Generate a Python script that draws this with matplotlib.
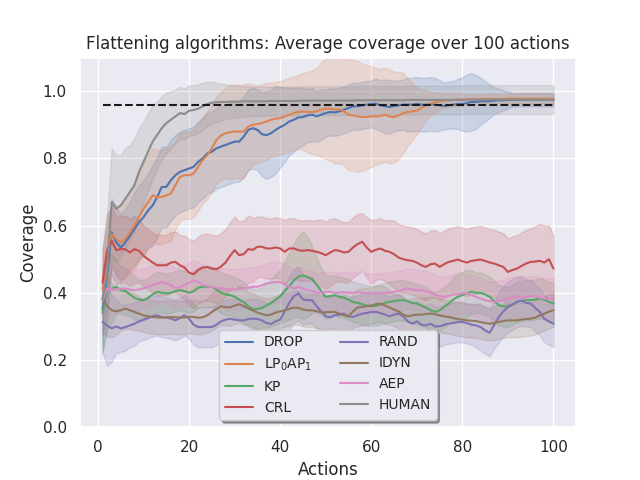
import matplotlib
matplotlib.use("Agg")
import matplotlib.pyplot as plt
import numpy as np
import seaborn as sns

sns.set()
plt.rcParams["font.family"] = ["DejaVu Sans"]

actions = np.arange(1, 101)
target = 0.96

labels = ["DROP", "LP$_0$AP$_1$", "KP", "CRL", "RAND", "IDYN", "AEP", "HUMAN"]

drop_mean = [
    0.35, 0.45, 0.58, 0.55, 0.535, 0.55, 0.57, 0.59, 0.61, 0.625,
    0.645, 0.66, 0.685, 0.715, 0.715, 0.735, 0.75, 0.76, 0.765, 0.77,
    0.775, 0.79, 0.80, 0.815, 0.82, 0.83, 0.835, 0.84, 0.845, 0.85,
    0.85, 0.865, 0.885, 0.89, 0.885, 0.872, 0.869, 0.875, 0.885, 0.893,
    0.90, 0.91, 0.915, 0.922, 0.923, 0.928, 0.93, 0.925, 0.93, 0.935,
    0.938, 0.937, 0.94, 0.945, 0.95, 0.955, 0.955, 0.958, 0.96, 0.962,
    0.963, 0.958, 0.955, 0.953, 0.956, 0.958, 0.96, 0.96, 0.96, 0.962,
    0.96, 0.96, 0.962, 0.96, 0.958, 0.956, 0.958, 0.96, 0.962, 0.962,
    0.965, 0.968, 0.968, 0.97, 0.97, 0.97, 0.972, 0.973, 0.973, 0.974,
    0.974, 0.974, 0.975, 0.975, 0.975, 0.975, 0.975, 0.975, 0.975, 0.975,
]
drop_std = [
    0.08, 0.10, 0.10, 0.10, 0.10, 0.10, 0.10, 0.11, 0.11, 0.11,
    0.11, 0.12, 0.12, 0.12, 0.12, 0.12, 0.12, 0.12, 0.12, 0.12,
    0.12, 0.12, 0.12, 0.12, 0.12, 0.12, 0.12, 0.12, 0.12, 0.12,
    0.12, 0.12, 0.12, 0.12, 0.12, 0.125, 0.13, 0.13, 0.13, 0.12,
    0.11, 0.10, 0.095, 0.09, 0.085, 0.08, 0.08, 0.075, 0.075, 0.07,
    0.07, 0.07, 0.07, 0.07, 0.07, 0.07, 0.07, 0.07, 0.07, 0.07,
    0.075, 0.075, 0.08, 0.08, 0.075, 0.075, 0.075, 0.08, 0.08, 0.08,
    0.08, 0.08, 0.08, 0.08, 0.075, 0.07, 0.07, 0.07, 0.075, 0.08,
    0.085, 0.085, 0.08, 0.07, 0.06, 0.05, 0.04, 0.035, 0.03, 0.025,
    0.02, 0.02, 0.02, 0.02, 0.02, 0.02, 0.02, 0.02, 0.02, 0.02,
]

lp_mean = [
    0.41, 0.50, 0.575, 0.56, 0.55, 0.56, 0.58, 0.60, 0.625, 0.65,
    0.67, 0.69, 0.685, 0.685, 0.69, 0.695, 0.72, 0.745, 0.75, 0.75,
    0.755, 0.775, 0.795, 0.81, 0.83, 0.855, 0.868, 0.875, 0.878, 0.88,
    0.88, 0.88, 0.895, 0.90, 0.902, 0.905, 0.91, 0.915, 0.918, 0.92,
    0.925, 0.93, 0.935, 0.938, 0.94, 0.938, 0.938, 0.94, 0.945, 0.948,
    0.948, 0.945, 0.946, 0.94, 0.93, 0.928, 0.925, 0.923, 0.923, 0.925,
    0.925, 0.926, 0.93, 0.925, 0.923, 0.928, 0.935, 0.938, 0.94, 0.942,
    0.95, 0.958, 0.963, 0.967, 0.97, 0.972, 0.973, 0.974, 0.975, 0.975,
    0.976, 0.976, 0.976, 0.976, 0.977, 0.977, 0.977, 0.977, 0.977, 0.978,
    0.978, 0.978, 0.978, 0.978, 0.978, 0.978, 0.978, 0.978, 0.978, 0.978,
]
lp_std = [
    0.08, 0.10, 0.10, 0.10, 0.11, 0.12, 0.12, 0.13, 0.13, 0.14,
    0.14, 0.14, 0.14, 0.14, 0.14, 0.14, 0.13, 0.13, 0.13, 0.13,
    0.13, 0.13, 0.13, 0.13, 0.13, 0.13, 0.13, 0.135, 0.14, 0.14,
    0.14, 0.14, 0.13, 0.12, 0.115, 0.115, 0.115, 0.11, 0.11, 0.11,
    0.11, 0.11, 0.11, 0.11, 0.115, 0.12, 0.125, 0.13, 0.14, 0.15,
    0.155, 0.16, 0.16, 0.16, 0.165, 0.165, 0.165, 0.16, 0.155, 0.15,
    0.145, 0.14, 0.14, 0.14, 0.135, 0.13, 0.12, 0.10, 0.085, 0.07,
    0.055, 0.045, 0.035, 0.03, 0.025, 0.022, 0.02, 0.02, 0.018, 0.018,
    0.015, 0.015, 0.015, 0.015, 0.015, 0.015, 0.015, 0.015, 0.015, 0.015,
    0.015, 0.015, 0.015, 0.015, 0.015, 0.015, 0.015, 0.015, 0.015, 0.015,
]

kp_mean = [
    0.34, 0.41, 0.412, 0.418, 0.408, 0.405, 0.395, 0.385, 0.38, 0.378,
    0.385, 0.395, 0.403, 0.40, 0.398, 0.40, 0.405, 0.408, 0.405, 0.40,
    0.405, 0.415, 0.418, 0.418, 0.418, 0.41, 0.40, 0.395, 0.393, 0.388,
    0.38, 0.372, 0.36, 0.351, 0.352, 0.355, 0.362, 0.37, 0.38, 0.39,
    0.405, 0.42, 0.437, 0.448, 0.452, 0.447, 0.44, 0.425, 0.405, 0.388,
    0.39, 0.393, 0.388, 0.386, 0.38, 0.373, 0.37, 0.366, 0.362, 0.36,
    0.362, 0.365, 0.37, 0.373, 0.375, 0.378, 0.378, 0.375, 0.37, 0.368,
    0.362, 0.356, 0.348, 0.343, 0.348, 0.358, 0.368, 0.38, 0.388, 0.393,
    0.398, 0.403, 0.40, 0.40, 0.395, 0.388, 0.375, 0.363, 0.36, 0.358,
    0.365, 0.373, 0.376, 0.378, 0.378, 0.38, 0.383, 0.38, 0.373, 0.368,
]
kp_std = [
    0.12, 0.12, 0.10, 0.08, 0.07, 0.07, 0.065, 0.065, 0.06, 0.06,
    0.06, 0.06, 0.06, 0.06, 0.06, 0.06, 0.06, 0.06, 0.06, 0.06,
    0.06, 0.06, 0.06, 0.06, 0.06, 0.06, 0.06, 0.06, 0.06, 0.06,
    0.06, 0.06, 0.06, 0.06, 0.06, 0.06, 0.065, 0.07, 0.075, 0.08,
    0.09, 0.10, 0.11, 0.12, 0.13, 0.12, 0.10, 0.08, 0.07, 0.065,
    0.06, 0.06, 0.06, 0.06, 0.06, 0.06, 0.06, 0.06, 0.06, 0.06,
    0.06, 0.06, 0.06, 0.06, 0.06, 0.06, 0.06, 0.06, 0.06, 0.06,
    0.06, 0.06, 0.06, 0.06, 0.06, 0.06, 0.06, 0.065, 0.07, 0.07,
    0.07, 0.065, 0.06, 0.06, 0.06, 0.06, 0.06, 0.06, 0.06, 0.06,
    0.06, 0.06, 0.06, 0.06, 0.06, 0.06, 0.06, 0.06, 0.06, 0.06,
]

crl_mean = [
    0.43, 0.527, 0.555, 0.527, 0.53, 0.53, 0.52, 0.53, 0.525, 0.51,
    0.50, 0.49, 0.482, 0.482, 0.482, 0.49, 0.492, 0.482, 0.475, 0.46,
    0.455, 0.468, 0.475, 0.477, 0.472, 0.47, 0.478, 0.49, 0.51, 0.527,
    0.512, 0.515, 0.53, 0.528, 0.537, 0.537, 0.532, 0.532, 0.535, 0.532,
    0.522, 0.532, 0.532, 0.527, 0.525, 0.527, 0.525, 0.522, 0.518, 0.512,
    0.52, 0.527, 0.525, 0.52, 0.522, 0.535, 0.545, 0.552, 0.535, 0.522,
    0.528, 0.532, 0.525, 0.522, 0.515, 0.505, 0.50, 0.497, 0.495, 0.49,
    0.482, 0.477, 0.485, 0.487, 0.477, 0.485, 0.492, 0.495, 0.499, 0.494,
    0.49, 0.495, 0.497, 0.499, 0.495, 0.49, 0.487, 0.482, 0.477, 0.462,
    0.468, 0.472, 0.48, 0.487, 0.492, 0.493, 0.495, 0.49, 0.50, 0.472,
]
crl_std = [
    0.10, 0.11, 0.10, 0.10, 0.10, 0.10, 0.10, 0.10, 0.095, 0.09,
    0.09, 0.09, 0.09, 0.09, 0.09, 0.09, 0.09, 0.09, 0.095, 0.10,
    0.10, 0.10, 0.10, 0.10, 0.10, 0.10, 0.10, 0.10, 0.10, 0.10,
    0.10, 0.10, 0.10, 0.095, 0.09, 0.09, 0.09, 0.09, 0.09, 0.09,
    0.095, 0.09, 0.09, 0.09, 0.09, 0.09, 0.09, 0.095, 0.10, 0.10,
    0.10, 0.095, 0.09, 0.09, 0.09, 0.09, 0.09, 0.085, 0.09, 0.095,
    0.09, 0.09, 0.09, 0.095, 0.10, 0.10, 0.10, 0.10, 0.10, 0.10,
    0.10, 0.10, 0.10, 0.10, 0.10, 0.10, 0.10, 0.10, 0.10, 0.10,
    0.10, 0.10, 0.10, 0.10, 0.10, 0.10, 0.10, 0.10, 0.10, 0.10,
    0.10, 0.10, 0.10, 0.10, 0.10, 0.105, 0.11, 0.11, 0.10, 0.10,
]

rand_mean = [
    0.313, 0.303, 0.294, 0.30, 0.294, 0.298, 0.303, 0.308, 0.315, 0.32,
    0.325, 0.33, 0.333, 0.328, 0.326, 0.323, 0.318, 0.325, 0.333, 0.323,
    0.305, 0.298, 0.298, 0.298, 0.298, 0.305, 0.315, 0.32, 0.323, 0.32,
    0.318, 0.318, 0.322, 0.323, 0.322, 0.318, 0.31, 0.307, 0.315, 0.32,
    0.345, 0.37, 0.39, 0.398, 0.38, 0.378, 0.378, 0.36, 0.345, 0.33,
    0.327, 0.333, 0.335, 0.338, 0.33, 0.328, 0.333, 0.338, 0.34, 0.343,
    0.343, 0.34, 0.335, 0.33, 0.335, 0.338, 0.33, 0.315, 0.308, 0.315,
    0.305, 0.303, 0.308, 0.30, 0.30, 0.305, 0.308, 0.31, 0.313, 0.313,
    0.31, 0.305, 0.303, 0.298, 0.288, 0.281, 0.305, 0.328, 0.345, 0.358,
    0.365, 0.373, 0.376, 0.37, 0.368, 0.355, 0.343, 0.323, 0.315, 0.308,
]
rand_std = [
    0.09, 0.12, 0.10, 0.08, 0.07, 0.07, 0.065, 0.065, 0.06, 0.06,
    0.06, 0.06, 0.06, 0.06, 0.06, 0.06, 0.06, 0.06, 0.06, 0.06,
    0.06, 0.06, 0.06, 0.06, 0.06, 0.06, 0.06, 0.06, 0.06, 0.06,
    0.06, 0.06, 0.06, 0.06, 0.06, 0.06, 0.06, 0.06, 0.065, 0.07,
    0.075, 0.08, 0.08, 0.08, 0.075, 0.07, 0.07, 0.065, 0.06, 0.06,
    0.06, 0.06, 0.06, 0.06, 0.06, 0.06, 0.06, 0.06, 0.06, 0.06,
    0.06, 0.06, 0.06, 0.06, 0.06, 0.06, 0.06, 0.06, 0.06, 0.06,
    0.06, 0.06, 0.06, 0.06, 0.06, 0.06, 0.06, 0.06, 0.06, 0.06,
    0.06, 0.06, 0.065, 0.07, 0.07, 0.07, 0.07, 0.075, 0.075, 0.075,
    0.075, 0.075, 0.075, 0.07, 0.07, 0.07, 0.07, 0.07, 0.07, 0.07,
]

idyn_mean = [
    0.383, 0.36, 0.348, 0.345, 0.348, 0.353, 0.348, 0.343, 0.338, 0.333,
    0.33, 0.328, 0.327, 0.326, 0.327, 0.328, 0.327, 0.326, 0.327, 0.329,
    0.328, 0.326, 0.327, 0.333, 0.343, 0.352, 0.36, 0.357, 0.357, 0.362,
    0.366, 0.36, 0.353, 0.348, 0.341, 0.337, 0.333, 0.335, 0.341, 0.345,
    0.348, 0.352, 0.356, 0.355, 0.35, 0.348, 0.348, 0.345, 0.342, 0.342,
    0.343, 0.343, 0.338, 0.333, 0.33, 0.345, 0.356, 0.358, 0.36, 0.362,
    0.366, 0.368, 0.362, 0.356, 0.35, 0.345, 0.335, 0.33, 0.333, 0.335,
    0.335, 0.337, 0.338, 0.336, 0.333, 0.33, 0.328, 0.325, 0.322, 0.32,
    0.318, 0.317, 0.316, 0.313, 0.31, 0.308, 0.31, 0.313, 0.316, 0.318,
    0.318, 0.318, 0.32, 0.322, 0.323, 0.326, 0.333, 0.338, 0.344, 0.348,
]
idyn_std = [
    0.10, 0.09, 0.08, 0.07, 0.06, 0.06, 0.055, 0.055, 0.05, 0.05,
    0.05, 0.05, 0.05, 0.05, 0.05, 0.05, 0.05, 0.05, 0.05, 0.05,
    0.05, 0.05, 0.05, 0.05, 0.055, 0.055, 0.055, 0.055, 0.055, 0.055,
    0.055, 0.055, 0.05, 0.05, 0.05, 0.05, 0.05, 0.05, 0.05, 0.05,
    0.05, 0.05, 0.05, 0.05, 0.05, 0.05, 0.05, 0.05, 0.05, 0.05,
    0.05, 0.05, 0.05, 0.05, 0.05, 0.05, 0.055, 0.055, 0.055, 0.055,
    0.055, 0.055, 0.055, 0.05, 0.05, 0.05, 0.05, 0.05, 0.05, 0.05,
    0.05, 0.05, 0.05, 0.05, 0.05, 0.05, 0.05, 0.05, 0.05, 0.05,
    0.05, 0.05, 0.05, 0.05, 0.05, 0.05, 0.05, 0.05, 0.05, 0.05,
    0.05, 0.05, 0.05, 0.05, 0.05, 0.05, 0.05, 0.05, 0.05, 0.05,
]

aep_mean = [
    0.378, 0.413, 0.41, 0.41, 0.412, 0.413, 0.41, 0.408, 0.41, 0.413,
    0.418, 0.423, 0.428, 0.432, 0.428, 0.423, 0.413, 0.418, 0.423, 0.43,
    0.437, 0.432, 0.423, 0.42, 0.418, 0.415, 0.413, 0.412, 0.41, 0.41,
    0.412, 0.413, 0.415, 0.418, 0.418, 0.422, 0.428, 0.43, 0.432, 0.432,
    0.425, 0.418, 0.413, 0.418, 0.413, 0.408, 0.405, 0.40, 0.40, 0.403,
    0.403, 0.40, 0.40, 0.402, 0.40, 0.40, 0.403, 0.40, 0.398, 0.398,
    0.398, 0.398, 0.40, 0.40, 0.403, 0.405, 0.41, 0.413, 0.41, 0.408,
    0.408, 0.405, 0.40, 0.395, 0.39, 0.388, 0.39, 0.395, 0.395, 0.398,
    0.398, 0.393, 0.388, 0.383, 0.378, 0.375, 0.373, 0.376, 0.378, 0.383,
    0.388, 0.388, 0.386, 0.387, 0.39, 0.39, 0.386, 0.383, 0.384, 0.383,
]
aep_std = [
    0.10, 0.09, 0.08, 0.07, 0.065, 0.06, 0.06, 0.06, 0.06, 0.06,
    0.06, 0.06, 0.06, 0.06, 0.06, 0.06, 0.06, 0.06, 0.06, 0.06,
    0.06, 0.06, 0.06, 0.06, 0.06, 0.06, 0.06, 0.06, 0.06, 0.06,
    0.06, 0.06, 0.06, 0.06, 0.06, 0.06, 0.06, 0.06, 0.06, 0.06,
    0.06, 0.06, 0.06, 0.06, 0.06, 0.06, 0.06, 0.06, 0.06, 0.06,
    0.06, 0.06, 0.06, 0.06, 0.06, 0.06, 0.06, 0.06, 0.06, 0.06,
    0.06, 0.06, 0.06, 0.06, 0.06, 0.06, 0.06, 0.06, 0.06, 0.06,
    0.06, 0.06, 0.06, 0.06, 0.06, 0.06, 0.06, 0.06, 0.06, 0.06,
    0.06, 0.06, 0.06, 0.06, 0.06, 0.06, 0.06, 0.06, 0.06, 0.06,
    0.06, 0.06, 0.06, 0.06, 0.06, 0.06, 0.06, 0.06, 0.06, 0.06,
]

human_mean = [
    0.38, 0.46, 0.67, 0.65, 0.66, 0.68, 0.70, 0.72, 0.76, 0.79,
    0.82, 0.85, 0.87, 0.89, 0.905, 0.915, 0.925, 0.935, 0.932, 0.942,
    0.944, 0.948, 0.955, 0.962, 0.966, 0.967, 0.968, 0.968, 0.969, 0.969,
    0.969, 0.97, 0.97, 0.97, 0.97, 0.97, 0.97, 0.971, 0.971, 0.971,
    0.971, 0.971, 0.971, 0.971, 0.972, 0.972, 0.972, 0.972, 0.972, 0.972,
    0.972, 0.972, 0.972, 0.972, 0.972, 0.972, 0.973, 0.973, 0.973, 0.973,
    0.973, 0.973, 0.973, 0.973, 0.973, 0.973, 0.973, 0.974, 0.974, 0.974,
    0.974, 0.974, 0.974, 0.974, 0.974, 0.974, 0.974, 0.974, 0.974, 0.974,
    0.975, 0.975, 0.975, 0.975, 0.975, 0.975, 0.975, 0.975, 0.975, 0.975,
    0.975, 0.975, 0.975, 0.975, 0.975, 0.975, 0.975, 0.975, 0.975, 0.975,
]
human_std = [
    0.15, 0.17, 0.16, 0.16, 0.15, 0.15, 0.14, 0.14, 0.13, 0.12,
    0.115, 0.11, 0.10, 0.095, 0.09, 0.085, 0.08, 0.078, 0.076, 0.075,
    0.074, 0.072, 0.07, 0.066, 0.062, 0.058, 0.055, 0.052, 0.05, 0.048,
    0.046, 0.045, 0.045, 0.044, 0.044, 0.044, 0.043, 0.043, 0.043, 0.043,
    0.043, 0.043, 0.043, 0.043, 0.043, 0.043, 0.043, 0.043, 0.043, 0.043,
    0.043, 0.043, 0.043, 0.043, 0.043, 0.043, 0.043, 0.043, 0.043, 0.043,
    0.043, 0.043, 0.043, 0.043, 0.043, 0.043, 0.043, 0.043, 0.043, 0.043,
    0.043, 0.043, 0.043, 0.043, 0.043, 0.043, 0.043, 0.043, 0.043, 0.043,
    0.043, 0.043, 0.043, 0.043, 0.043, 0.043, 0.043, 0.043, 0.043, 0.043,
    0.043, 0.043, 0.043, 0.043, 0.043, 0.043, 0.043, 0.043, 0.043, 0.043,
]

means = [drop_mean, lp_mean, kp_mean, crl_mean, rand_mean, idyn_mean, aep_mean, human_mean]
stds = [drop_std, lp_std, kp_std, crl_std, rand_std, idyn_std, aep_std, human_std]

fig, ax = plt.subplots(figsize=(6.4, 4.8), dpi=100)

for i, (label, m, s) in enumerate(zip(labels, means, stds)):
    m = np.array(m)
    s = np.array(s)
    color = "C%d" % i
    ax.plot(actions, m, color=color, label=label)
    ax.fill_between(actions, m - s, m + s, color=color, alpha=0.2)

# target coverage
ax.plot([actions[0], actions[-1]], [target, target], "k--")

ax.set_ylim(0, 1.1)
ax.set_xlabel("Actions")
ax.set_ylabel("Coverage")
ax.set_title("Flattening algorithms: Average coverage over 100 actions")
ax.legend(loc="lower center", ncol=2, shadow=True, fontsize=10)

fig.savefig("out.png", dpi=100)
